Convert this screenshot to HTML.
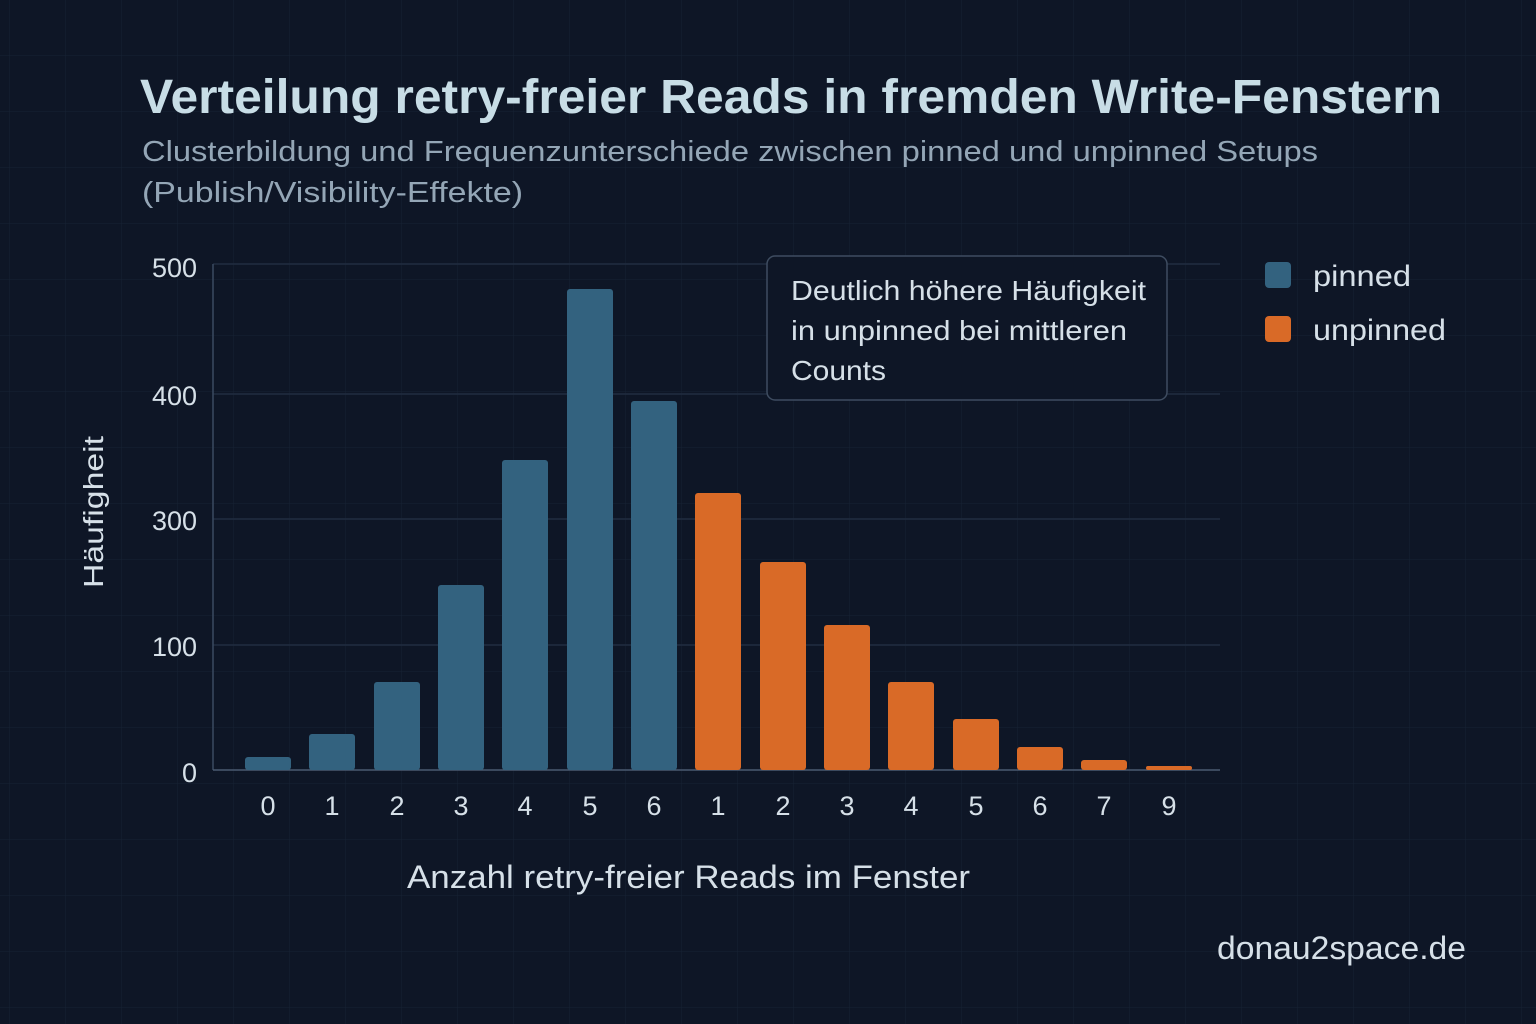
<!DOCTYPE html>
<html><head><meta charset="utf-8"><style>
html,body{margin:0;padding:0;background:#0e1626;}
svg{display:block}
text{font-family:"Liberation Sans","DejaVu Sans",sans-serif;}
</style></head><body>
<svg width="1536" height="1024" viewBox="0 0 1536 1024" xmlns="http://www.w3.org/2000/svg">
<defs>
<pattern id="g" width="56" height="56" patternUnits="userSpaceOnUse" x="10" y="0">
<path d="M56 0V56M0 56H56" stroke="#172234" stroke-width="1" fill="none"/>
</pattern>
</defs>
<rect width="1536" height="1024" fill="#0e1626"/>
<rect width="1536" height="1024" fill="url(#g)"/>
<text x="140" y="113" font-size="48" font-weight="bold" fill="#c8dde6" textLength="1302" lengthAdjust="spacingAndGlyphs">Verteilung retry-freier Reads in fremden Write-Fenstern</text>
<text x="142" y="161" font-size="29" fill="#94a6b6" textLength="1176" lengthAdjust="spacingAndGlyphs">Clusterbildung und Frequenzunterschiede zwischen pinned und unpinned Setups</text>
<text x="142" y="202" font-size="29" fill="#94a6b6" textLength="381" lengthAdjust="spacingAndGlyphs">(Publish/Visibility-Effekte)</text>
<g stroke="#212d40" stroke-width="1.5">
<line x1="213" y1="264" x2="1220" y2="264"/>
<line x1="213" y1="394" x2="1220" y2="394"/>
<line x1="213" y1="519" x2="1220" y2="519"/>
<line x1="213" y1="645" x2="1220" y2="645"/>
</g>
<line x1="213" y1="264" x2="213" y2="770" stroke="#3a4a60" stroke-width="1.5"/>
<line x1="213" y1="770" x2="1220" y2="770" stroke="#4a5a70" stroke-width="1.5"/>
<g font-size="27" fill="#d6e0e8" text-anchor="end">
<text x="197" y="277">500</text><text x="197" y="405">400</text><text x="197" y="530">300</text><text x="197" y="656">100</text><text x="197" y="782">0</text>
</g>
<text transform="translate(103,512) rotate(-90)" font-size="28" fill="#d6e0e8" text-anchor="middle" textLength="152" lengthAdjust="spacingAndGlyphs">Häufigheit</text>
<g fill="#33627f">
<rect x="245" y="757" width="46" height="13" rx="3"/>
<rect x="309" y="734" width="46" height="36" rx="3"/>
<rect x="374" y="682" width="46" height="88" rx="3"/>
<rect x="438" y="585" width="46" height="185" rx="3"/>
<rect x="502" y="460" width="46" height="310" rx="3"/>
<rect x="567" y="289" width="46" height="481" rx="3"/>
<rect x="631" y="401" width="46" height="369" rx="3"/>
</g>
<g fill="#d96a27">
<rect x="695" y="493" width="46" height="277" rx="3"/>
<rect x="760" y="562" width="46" height="208" rx="3"/>
<rect x="824" y="625" width="46" height="145" rx="3"/>
<rect x="888" y="682" width="46" height="88" rx="3"/>
<rect x="953" y="719" width="46" height="51" rx="3"/>
<rect x="1017" y="747" width="46" height="23" rx="3"/>
<rect x="1081" y="760" width="46" height="10" rx="3"/>
<rect x="1146" y="766" width="46" height="4" rx="2"/>
</g>
<g font-size="27" fill="#d6e0e8" text-anchor="middle">
<text x="268" y="815">0</text><text x="332" y="815">1</text><text x="397" y="815">2</text><text x="461" y="815">3</text><text x="525" y="815">4</text><text x="590" y="815">5</text><text x="654" y="815">6</text><text x="718" y="815">1</text><text x="783" y="815">2</text><text x="847" y="815">3</text><text x="911" y="815">4</text><text x="976" y="815">5</text><text x="1040" y="815">6</text><text x="1104" y="815">7</text><text x="1169" y="815">9</text>
</g>
<text x="407" y="888" font-size="32" fill="#d6e0e8" textLength="563" lengthAdjust="spacingAndGlyphs">Anzahl retry-freier Reads im Fenster</text>
<rect x="767" y="256" width="400" height="144" rx="8" fill="#0e1626" stroke="#3e4c60" stroke-width="1.5"/>
<g font-size="28" fill="#d6e0e8">
<text x="791" y="300" textLength="355" lengthAdjust="spacingAndGlyphs">Deutlich höhere Häufigkeit</text>
<text x="791" y="340" textLength="336" lengthAdjust="spacingAndGlyphs">in unpinned bei mittleren</text>
<text x="791" y="380" textLength="95" lengthAdjust="spacingAndGlyphs">Counts</text>
</g>
<rect x="1265" y="262" width="26" height="26" rx="4" fill="#33627f"/>
<text x="1313" y="286" font-size="30" fill="#d6e0e8" textLength="98" lengthAdjust="spacingAndGlyphs">pinned</text>
<rect x="1265" y="316" width="26" height="26" rx="4" fill="#d96a27"/>
<text x="1313" y="340" font-size="30" fill="#d6e0e8" textLength="133" lengthAdjust="spacingAndGlyphs">unpinned</text>
<text x="1217" y="959" font-size="32" fill="#d6e0e8" textLength="249" lengthAdjust="spacingAndGlyphs">donau2space.de</text>
</svg>
</body></html>
